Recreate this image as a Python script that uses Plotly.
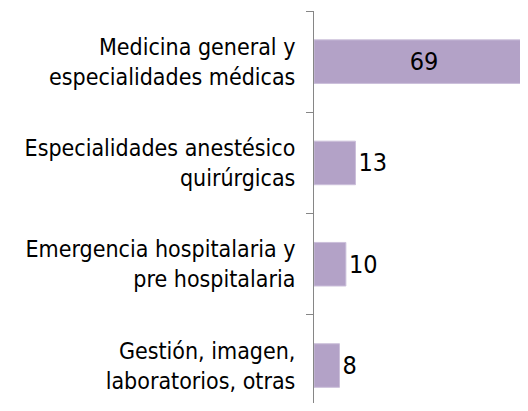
import plotly.graph_objects as go

categories = [
    "Medicina general y<br>especialidades médicas",
    "Especialidades anestésico<br>quirúrgicas",
    "Emergencia hospitalaria y<br>pre hospitalaria",
    "Gestión, imagen,<br>laboratorios, otras",
]
values = [69, 13, 10, 8]
text_positions = ["inside", "outside", "outside", "outside"]

FONT = "DejaVu Sans Condensed, Liberation Sans, Arial, sans-serif"

fig = go.Figure(
    go.Bar(
        x=values,
        y=categories,
        orientation="h",
        text=[str(v) for v in values],
        textposition=text_positions,
        insidetextanchor="middle",
        textfont=dict(family=FONT, size=25, color="black"),
        insidetextfont=dict(family=FONT, size=25, color="black"),
        outsidetextfont=dict(family=FONT, size=25, color="black"),
        marker=dict(color="#B3A2C7", line=dict(color="#CBBFDA", width=1)),
        constraintext="none",
        cliponaxis=True,
        hoverinfo="skip",
    )
)

# page body has an 8px margin; figure sized to fit the 528x411 window
fig.update_layout(
    width=512,
    height=395,
    margin=dict(l=306, r=0, t=3, b=0),
    paper_bgcolor="white",
    plot_bgcolor="white",
    showlegend=False,
    bargap=0.57,
    font=dict(family=FONT, size=23, color="black"),
)

fig.update_xaxes(
    range=[0, 64.6],
    visible=False,
    showgrid=False,
    zeroline=False,
)

fig.update_yaxes(
    type="category",
    categoryorder="array",
    categoryarray=categories,
    range=[3.37, -0.5],
    showline=True,
    linecolor="#868686",
    linewidth=1,
    ticks="outside",
    tickson="boundaries",
    ticklen=7,
    tickcolor="#868686",
    tickwidth=1,
    ticklabelstandoff=13,
    tickfont=dict(family=FONT, size=23, color="black"),
    showgrid=False,
    zeroline=False,
    automargin=False,
)

fig.write_html("out.html")
